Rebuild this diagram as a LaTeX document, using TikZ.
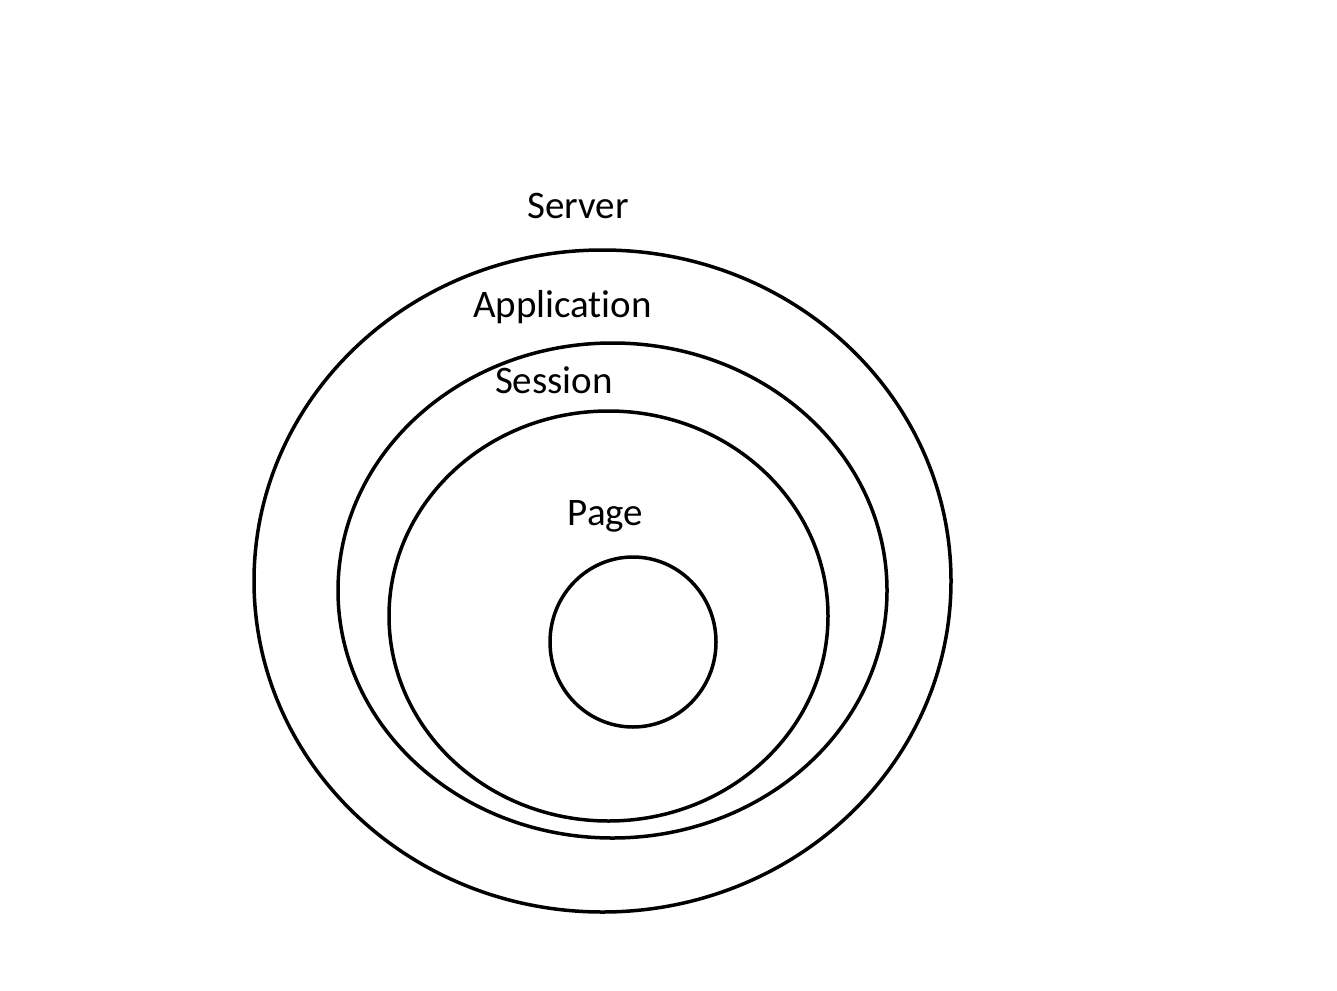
\documentclass[tikz,border=0pt]{standalone}
\usepackage{fontspec}
\setmainfont{Carlito}[Ligatures={NoCommon}]
\begin{document}
\begin{tikzpicture}[x=1pt,y=-1pt,
  ring/.style={draw=black,line width=3.5pt},
  lbl/.style={anchor=base,inner sep=0pt,font=\fontsize{39}{46}\selectfont}]
\useasboundingbox (0,0) rectangle (1337,990);
\draw[ring] (602.5,581) ellipse [x radius=348.5,y radius=331];
\draw[ring] (612.5,590.5) ellipse [x radius=274.5,y radius=247.5];
\draw[ring] (608.5,616) ellipse [x radius=219.5,y radius=205];
\draw[ring] (633,642) ellipse [x radius=83,y radius=85];
\node[lbl] (server) at (578,218) {Server};
\node[lbl] (app) at (562.5,317) {Application};
\node[lbl] (session) at (554,393) {Session};
\node[lbl] (page) at (605.5,525) {Page};
\end{tikzpicture}
\end{document}
